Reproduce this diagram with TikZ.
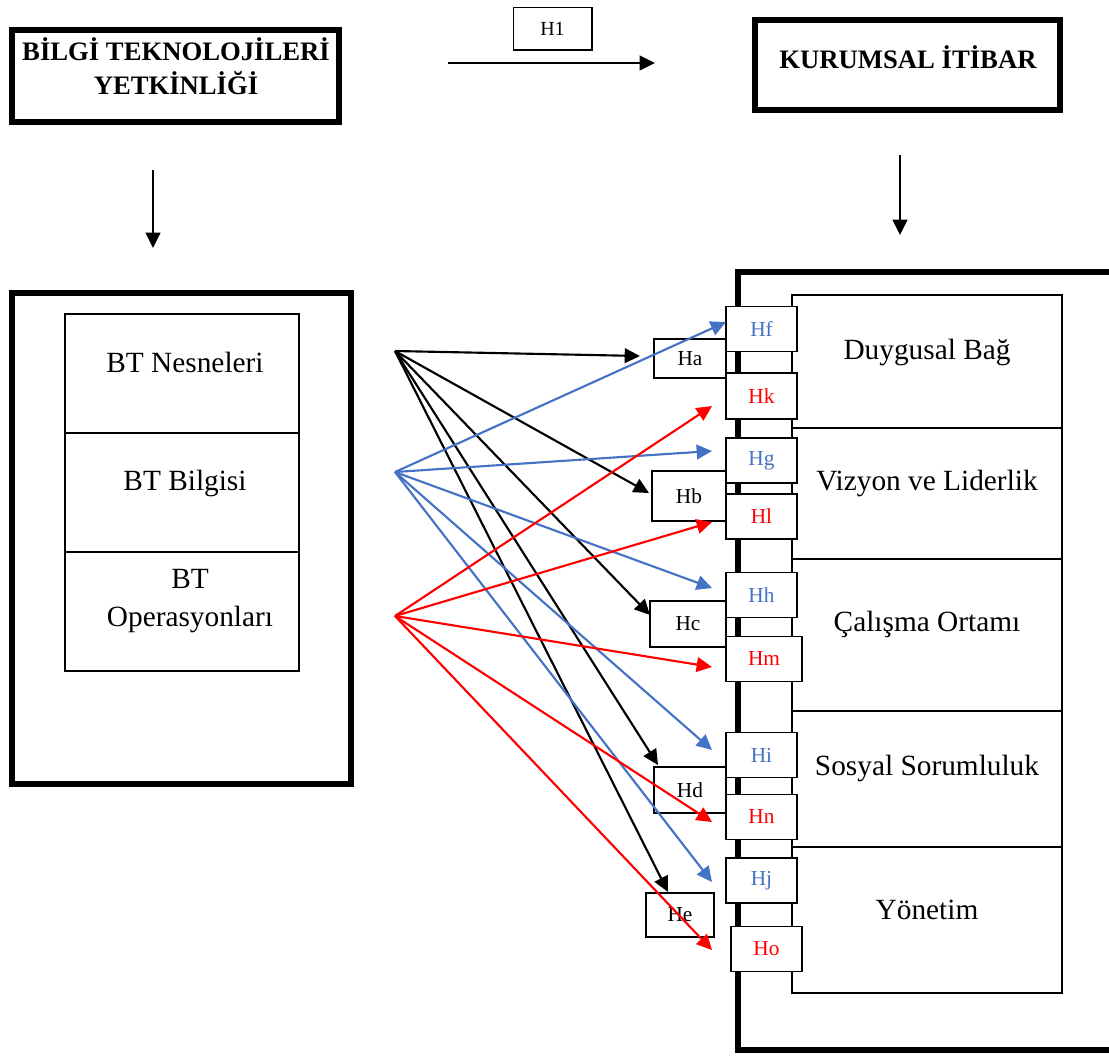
\documentclass[tikz,border=0pt]{standalone}
\usepackage{fontspec}
\setmainfont{Liberation Serif}
\usetikzlibrary{arrows.meta}

\definecolor{hblue}{RGB}{68,114,196}
\definecolor{hred}{RGB}{255,0,0}

\begin{document}
\begin{tikzpicture}[x=0.75pt,y=-0.75pt,
        frame/.style={line width=4.5pt},
        cell/.style={line width=1.2pt},
        head/.style={font=\bfseries\fontsize{20}{25.5}\selectfont,align=center,inner sep=0pt},
        txt/.style={font=\fontsize{22}{29}\selectfont,align=center,inner sep=0pt},
        hyp/.style={draw,fill=white,line width=1.2pt,inner sep=0pt,minimum width=53.5pt,
            minimum height=33.5pt,font=\fontsize{16}{18}\selectfont},
        link/.style={line width=1.6pt,-{Triangle[length=11.5pt,width=11pt]}}]
        \useasboundingbox (0,0) rectangle (1109,1057);

        % top row
        \draw[frame] (12,30) rectangle (339,122);
        \node[head] (bty) at (176,66) {BİLGİ TEKNOLOJİLERİ\\YETKİNLİĞİ};
        \draw[frame] (755,20) rectangle (1060,110);
        \node[head] (kit) at (908,57) {KURUMSAL İTİBAR};
        \node[hyp,line width=1pt,minimum width=59pt,minimum height=32pt,font=\fontsize{15}{17}\selectfont] (h1) at (552.5,28.5) {H1};

        \coordinate (h1s) at (448,63);
        \coordinate (h1e) at (655,63);
        \coordinate (d1s) at (153,170);
        \coordinate (d1e) at (153,248);
        \coordinate (d2s) at (900,155);
        \coordinate (d2e) at (900,235);
        \draw[link] (h1s) -- (h1e);
        \draw[link] (d1s) -- (d1e);
        \draw[link] (d2s) -- (d2e);

        % left block
        \draw[frame] (12,293) rectangle (351,784);
        \draw[cell] (65,314) rectangle (299,433) (65,433) rectangle (299,552) (65,552) rectangle (299,671);
        \node[txt] (nes) at (185,362) {BT Nesneleri};
        \node[txt] (bil) at (185,483) {BT Bilgisi};
        \node[txt] (ope) at (190,601) {BT\\Operasyonları};

        % right block
        \draw[line width=3.8pt] (1115,272) -- (738,272) -- (738,1050) -- (1115,1050);
        \draw[cell] (792,295) rectangle (1062,993);
        \foreach \y in {428,559,711,847}
            \draw[cell] (792,\y) -- (1062,\y);
        \node[txt] (duy) at (927,352) {Duygusal Bağ};
        \node[txt] (viz) at (927,483) {Vizyon ve Liderlik};
        \node[txt] (cal) at (927,624) {Çalışma Ortamı};
        \node[txt] (sos) at (927,768) {Sosyal Sorumluluk};
        \node[txt] (yon) at (927,910) {Yönetim};

        % hypothesis boxes
        \node[hyp,minimum width=54pt,minimum height=29pt] (ha) at (690,358.5) {Ha};
        \node[hyp,minimum width=55.5pt,minimum height=37.5pt] (hb) at (689,496) {Hb};
        \node[hyp,minimum width=57pt,minimum height=34.5pt] (hc) at (688,624) {Hc};
        \node[hyp,minimum width=54pt,minimum height=34.5pt] (hd) at (690,790) {Hd};
        \node[hyp,minimum width=51pt,minimum height=33pt] (he) at (680,915) {He};

        \node[hyp,text=hblue] (hf) at (761.5,329) {Hf};
        \node[hyp,text=hblue] (hg) at (761.5,460.5) {Hg};
        \node[hyp,text=hblue] (hh) at (761.5,595) {Hh};
        \node[hyp,text=hblue] (hi) at (761.5,755) {Hi};
        \node[hyp,text=hblue] (hj) at (761.5,880.5) {Hj};
        \node[hyp,text=hred,minimum height=34.5pt] (hk) at (761.5,396) {Hk};
        \node[hyp,text=hred] (hl) at (761.5,516.5) {Hl};
        \node[hyp,text=hred,minimum width=57pt] (hm) at (764,659) {Hm};
        \node[hyp,text=hred] (hn) at (761.5,817) {Hn};
        \node[hyp,text=hred] (ho) at (766.5,949) {Ho};

        % arrows
        \coordinate (sk) at (395,351);
        \coordinate (sb) at (395,472);
        \coordinate (sr) at (395,616);
        \foreach \n/\x/\y in {pa/640/356, pb/649/493, pc/650/615, pd/658/765, pe/668/892,
                pf/726/322, pg/712/451, ph/712/588, pi/712/750, pj/712/882,
                pk/712/406, pl/712/522, pm/712/667, pn/712/822, po/712/950}
            \coordinate (\n) at (\x,\y);

        \foreach \t in {pa,pb,pc,pd,pe}
            \draw[link] (sk) -- (\t);
        \foreach \t in {pf,pg,ph,pi,pj}
            \draw[link,hblue] (sb) -- (\t);
        \foreach \t in {pk,pl,pm,pn,po}
            \draw[link,hred] (sr) -- (\t);
    \end{tikzpicture}
\end{document}
